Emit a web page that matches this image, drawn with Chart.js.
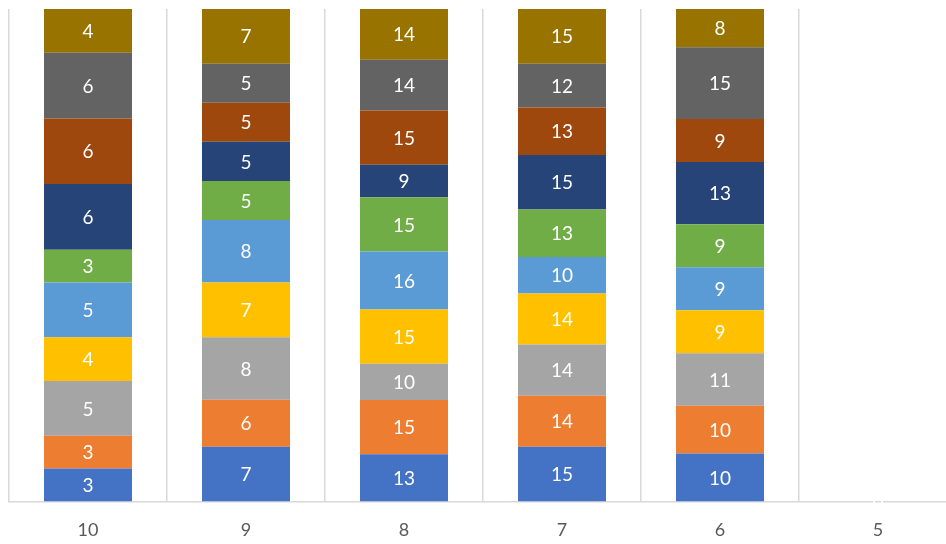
<!DOCTYPE html>
<html>
<head>
<meta charset="utf-8">
<script src="https://cdn.jsdelivr.net/npm/chart.js@4"></script>
<style>
  html, body { margin: 0; padding: 0; background: #fff; overflow: hidden; }
  #wrap { width: 960px; height: 563px; }
</style>
</head>
<body>
<div id="wrap"><canvas id="chartcanvas"></canvas></div>
<script>
const categories = ["10", "9", "8", "7", "6", "5"];

const s1 = [3, 7, 13, 15, 10, 0];
const s2 = [3, 6, 15, 14, 10, 0];
const s3 = [5, 8, 10, 14, 11, 0];
const s4 = [4, 7, 15, 14, 9, 0];
const s5 = [5, 8, 16, 10, 9, 0];
const s6 = [3, 5, 15, 13, 9, 0];
const s7 = [6, 5, 9, 15, 13, 0];
const s8 = [6, 5, 15, 13, 9, 0];
const s9 = [6, 5, 14, 12, 15, 0];
const s10 = [4, 7, 14, 15, 8, 0];

const series = [s1, s2, s3, s4, s5, s6, s7, s8, s9, s10];
const colors = [
  "#4472C4", "#ED7D31", "#A5A5A5", "#FFC000", "#5B9BD5",
  "#70AD47", "#264478", "#9E480E", "#636363", "#997300",
];

// column totals for 100% stacking
const totals = categories.map((c, i) => series.reduce((sum, s) => sum + s[i], 0));

const ctx = document.getElementById("chartcanvas");

// draw value labels in the middle of each segment
const valueLabels = {
  id: "valueLabels",
  afterDatasetsDraw(chart) {
    const c = chart.ctx;
    c.save();
    c.fillStyle = "#ffffff";
    c.font = "19px Lato";
    c.textAlign = "center";
    c.textBaseline = "middle";
    chart.data.datasets.forEach((ds, di) => {
      const meta = chart.getDatasetMeta(di);
      meta.data.forEach((bar, i) => {
        c.fillText(String(series[di][i]), bar.x, (bar.y + bar.base) / 2 + 1);
      });
    });
    c.restore();
  },
};

const config = {
  type: "bar",
  data: {
    labels: categories,
    datasets: series.map((s, di) => ({
      label: "Series " + (di + 1),
      data: s.map((v, i) => (totals[i] ? (v / totals[i]) * 100 : 0)),
      backgroundColor: colors[di],
      borderWidth: 0,
      categoryPercentage: 1,
      barPercentage: 0.557,
    })),
  },
  options: {
    responsive: true,
    maintainAspectRatio: false,
    animation: false,
    layout: { padding: { top: 9, left: 9, right: 3, bottom: 4 } },
    plugins: {
      legend: { display: false },
      tooltip: { enabled: false },
    },
    scales: {
      x: {
        stacked: true,
        grid: { color: "#d9d9d9", lineWidth: 1.5, drawTicks: false },
        border: { color: "#d9d9d9", width: 1.5 },
        ticks: {
          color: "#595959",
          font: { family: "Lato", size: 18 },
          padding: 18,
        },
      },
      y: {
        stacked: true,
        display: false,
        min: 0,
        max: 100,
      },
    },
  },
  plugins: [valueLabels],
};

const chart = new Chart(ctx, config);
</script>
</body>
</html>
